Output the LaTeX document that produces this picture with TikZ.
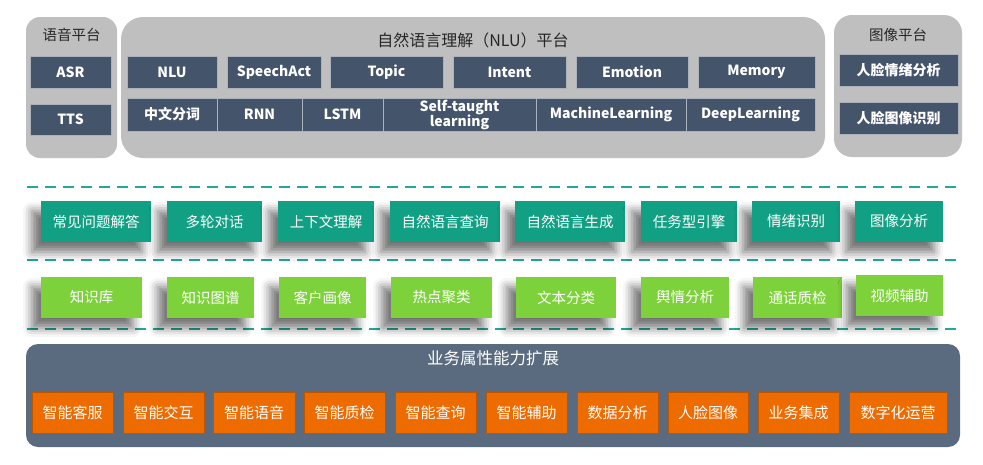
\documentclass[tikz,border=0pt]{standalone}
\usepackage{fontspec}
\setmainfont{Noto Sans CJK SC}
\usetikzlibrary{shadows.blur}

\definecolor{platgray}{HTML}{BFBFBF}
\definecolor{navy}{HTML}{44546A}
\definecolor{dashteal}{HTML}{1FA99B}
\definecolor{tealbox}{HTML}{12A084}
\definecolor{limebox}{HTML}{7DD23B}
\definecolor{slate}{HTML}{5A6A7F}
\definecolor{orangebox}{HTML}{EE6B00}

\tikzset{
  platform/.style={fill=platgray, inner sep=0pt},
  plattitle/.style={text=black!85, font=\fontsize{14.5}{16}\selectfont, inner sep=0pt},
  darkbox/.style={fill=navy, draw=navy!45!white, line width=0.6pt, text=white,
    font=\fontsize{14}{15}\selectfont\bfseries, align=center, inner sep=0pt},
  shadowbox/.style={fill=#1, text=white, font=\fontsize{14.5}{16}\selectfont, inner sep=0pt,
    blur shadow={shadow xshift=-9pt, shadow yshift=-10pt, shadow blur radius=9pt, shadow opacity=55}},
  orangecell/.style={fill=orangebox, draw=orangebox!80!black, line width=0.4pt, text=white,
    font=\fontsize{15}{16}\selectfont, inner sep=0pt},
  sepline/.style={draw=dashteal, line width=2.6pt, dash pattern=on 11pt off 7pt}
}

\begin{document}
\begin{tikzpicture}[x=1pt, y=-1pt]
\useasboundingbox (0,0) rectangle (983,464);

% platforms at the top
\node[platform, rounded corners=14pt, minimum width=91pt, minimum height=141pt] (voice) at (71.5,87.5) {};
\node[platform, rounded corners=22pt, minimum width=704pt, minimum height=141pt] (nlu) at (473,87.5) {};
\node[platform, rounded corners=18pt, minimum width=128pt, minimum height=142pt] (image) at (898,86) {};
\node[plattitle] (voicetitle) at (71.5,35) {语音平台};
\node[plattitle, font=\fontsize{16}{18}\selectfont] (nlutitle) at (473,40) {自然语言理解（NLU）平台};
\node[plattitle] (imagetitle) at (898,35) {图像平台};

\node[darkbox, minimum width=81pt, minimum height=32pt] (asr) at (70.5,72) {ASR};
\node[darkbox, minimum width=81pt, minimum height=31pt] (tts) at (70.5,119.5) {TTS};
\node[darkbox, minimum width=119pt, minimum height=32pt] (faceemo) at (898.5,70) {人脸情绪分析};
\node[darkbox, minimum width=119pt, minimum height=32pt] (faceimg) at (898.5,118) {人脸图像识别};

\foreach \xa/\xb/\lbl/\nm in {127/217/NLU/nlubox, 227/321/SpeechAct/speechact, 330/443/Topic/topic,
    453/566/Intent/intent, 576/688/Emotion/emotion, 698/815/Memory/memory}
  \node[darkbox, minimum width={(\xb-\xa)*1pt}, minimum height=32pt] (\nm) at ({(\xa+\xb)/2},72) {\lbl};

\foreach \xa/\xb/\lbl/\nm in {127/217/中文分词/seg, 217/302/RNN/rnn, 302/383/LSTM/lstm,
    383/536/{Self-taught\\learning}/selftaught, 536/686/MachineLearning/ml, 686/815/DeepLearning/dl}
  \node[darkbox, minimum width={(\xb-\xa)*1pt}, minimum height=33pt] (\nm) at ({(\xa+\xb)/2},114.5) {\lbl};

% dashed separators
\foreach \y in {187,260,329}
  \draw[sepline] (27,\y) -- (960,\y);

% application rows
\foreach \xa/\xb/\lbl/\nm in {41/151/常见问题解答/faq, 167/262/多轮对话/dialog, 278/374/上下文理解/context,
    390/500/自然语言查询/nlquery, 515/625/自然语言生成/nlg, 641/737/任务型引擎/task,
    752/840/情绪识别/emorec, 855/943/图像分析/imgana}
  \node[shadowbox=tealbox, minimum width={(\xb-\xa)*1pt}, minimum height=41pt] (\nm) at ({(\xa+\xb)/2},221.5) {\lbl};

\foreach \xa/\xb/\yc/\lbl/\nm in {41/142/297.5/知识库/kb, 167/254/297.5/知识图谱/kg, 279/366/297.5/客户画像/persona,
    391/492/297.5/热点聚类/cluster, 516/616/297.5/文本分类/textcls, 641/729/297.5/舆情分析/opinion,
    753/842/297.5/通话质检/callqc, 856/943/295.5/视频辅助/video}
  \node[shadowbox=limebox, minimum width={(\xb-\xa)*1pt}, minimum height=41pt] (\nm) at ({(\xa+\xb)/2},\yc) {\lbl};

% business extension
\node[fill=slate, rounded corners=12pt, minimum width=934pt, minimum height=103pt, inner sep=0pt] (biz) at (493,395.5) {};
\node[text=white, font=\fontsize{16.5}{18}\selectfont, inner sep=0pt] (biztitle) at (493,358) {业务属性能力扩展};

\foreach \xa/\xb/\lbl/\nm in {32/113/智能客服/cs, 123/204/智能交互/interact, 213/295/智能语音/voiceai,
    304/385/智能质检/qc, 395/476/智能查询/query, 486/567/智能辅助/assist, 577/658/数据分析/data,
    668/748/人脸图像/face, 758/839/业务集成/integ, 849/947/数字化运营/digital}
  \node[orangecell, minimum width={(\xb-\xa)*1pt}, minimum height=41pt] (\nm) at ({(\xa+\xb)/2},412.5) {\lbl};
\end{tikzpicture}
\end{document}
